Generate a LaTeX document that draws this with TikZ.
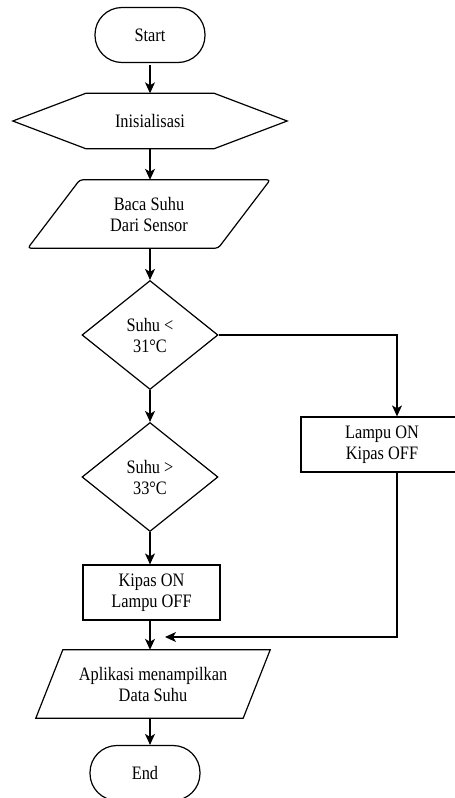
\documentclass[tikz,border=0pt]{standalone}
\usepackage{fontspec}
\setmainfont[FakeStretch=0.86]{Liberation Serif}
\usepackage{tikz}
\usetikzlibrary{arrows.meta, positioning, shapes.geometric, calc}

\tikzset{
  flow/.style={line width=1.2pt, -{Stealth[length=11pt, width=10pt, inset=3pt]}},
  termbox/.style={draw, line width=1.2pt, rounded corners=27pt, minimum width=110pt, minimum height=55pt},
  procbox/.style={draw, line width=1.2pt, minimum height=55pt, align=center},
  decbox/.style={draw, diamond, line width=1.2pt, aspect=1.25, inner sep=0pt, minimum width=136pt, minimum height=109pt, align=center},
  shapetxt/.style={inner sep=0pt, align=center},
  outline/.style={draw, line width=1.2pt}
}

\begin{document}
\begin{tikzpicture}[x=1pt, y=-1pt, font=\fontsize{19}{21}\selectfont]
\useasboundingbox (0,0) rectangle (455,798);
\clip (0,0) rectangle (455,798);

\node[termbox] (start) at (150,35) {Start};
\node[shapetxt, minimum width=274pt, minimum height=55pt] (init) at (150,121) {Inisialisasi};
\node[shapetxt, minimum width=190pt, minimum height=68pt] (baca) at (149,214) {Baca Suhu\\Dari Sensor};
\node[decbox] (cek1) at (150,335) {Suhu <\\31°C};
\node[decbox] (cek2) at (150,477) {Suhu >\\33°C};
\node[procbox, minimum width=162pt] (lampu) at (382,444.5) {Lampu ON\\Kipas OFF};
\node[procbox, minimum width=137pt] (kipas) at (151.5,592.5) {Kipas ON\\Lampu OFF};
\node[shapetxt, minimum width=207pt, minimum height=68pt] (aplikasi) at (153,684) {Aplikasi menampilkan\\Data Suhu};
\node[termbox] (end) at (145,773) {End};
\coordinate (gabung) at (165,637);

% outlines of hexagon and parallelograms
\draw[outline] (init.west) -- ([xshift=73pt]init.north west) -- ([xshift=-73pt]init.north east)
  -- (init.east) -- ([xshift=-73pt]init.south east) -- ([xshift=73pt]init.south west) -- cycle;
\draw[outline, rounded corners=3pt] ([xshift=26pt]baca.north west) -- ([xshift=26pt]baca.north east)
  -- ([xshift=-26pt]baca.south east) -- ([xshift=-26pt]baca.south west) -- cycle;
\draw[outline] ([xshift=13.5pt]aplikasi.north west) -- ([xshift=13.5pt]aplikasi.north east)
  -- ([xshift=-13.5pt]aplikasi.south east) -- ([xshift=-13.5pt]aplikasi.south west) -- cycle;

% connectors
\draw[flow] (start.south |- 0,65) -- (init.north);
\draw[flow] (init.south) -- (init.south |- baca.north);
\draw[flow] (baca.south -| cek1.north) -- (cek1.north);
\draw[flow] (cek1.south) -- (cek2.north);
\draw[flow] (cek1.east) -| ([xshift=15pt]lampu.north);
\draw[flow] (cek2.south) -- (cek2.south |- kipas.north);
\draw[flow] (kipas.south -| cek2.south) -- (cek2.south |- aplikasi.north);
\draw[flow] ([xshift=15pt]lampu.south) |- (gabung);
\draw[flow] (aplikasi.south -| cek2.south) -- (cek2.south |- end.north);
\end{tikzpicture}
\end{document}
